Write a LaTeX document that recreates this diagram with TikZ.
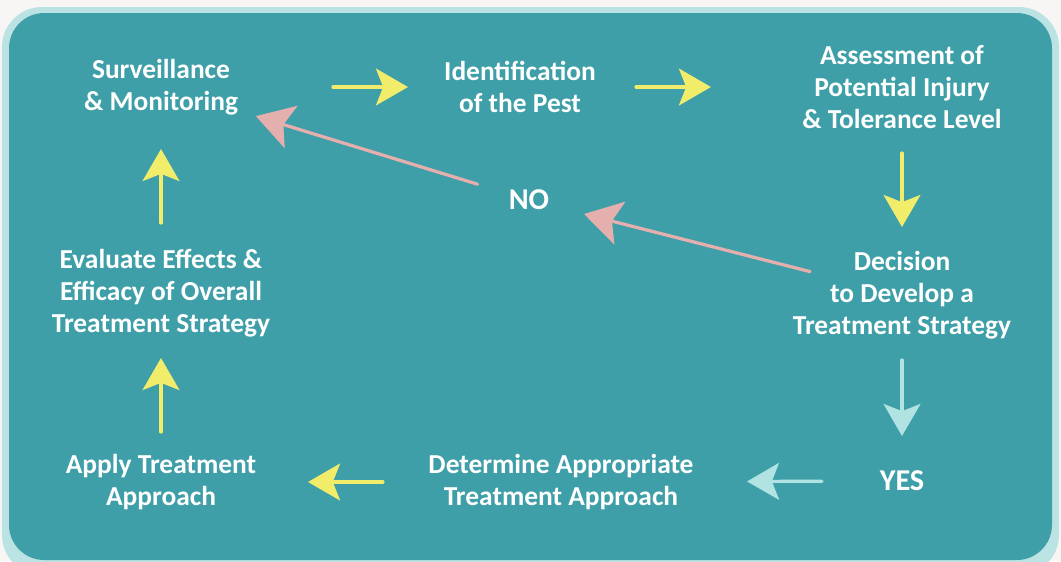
\documentclass[tikz,border=0pt]{standalone}
\usepackage{fontspec}
\setmainfont{Carlito}
\usetikzlibrary{arrows.meta}
\definecolor{pagebg}{HTML}{F7F6F4}
\definecolor{rimcol}{HTML}{BCE3E3}
\definecolor{tealcol}{HTML}{3E9FA8}
\definecolor{yelcol}{HTML}{F2EC6B}
\definecolor{pinkcol}{HTML}{E5AFAE}
\definecolor{cyancol}{HTML}{B0E3E1}
\tikzset{
  yarr/.style={draw=yelcol, line width=2.3pt, line cap=round,
    -{Stealth[length=0.8cm, width=0.92cm, inset=0.18cm, fill=yelcol]}},
  carr/.style={draw=cyancol, line width=2.3pt, line cap=round,
    -{Stealth[length=0.8cm, width=0.92cm, inset=0.18cm, fill=cyancol]}},
  parr/.style={draw=pinkcol, line width=2.3pt, line cap=round,
    -{Stealth[length=0.92cm, width=1.1cm, inset=0.2cm, fill=pinkcol]}},
  answer/.style={font=\fontsize{21.5}{24}\selectfont\bfseries}
}
\begin{document}
\begin{tikzpicture}[x=0.025cm, y=-0.025cm,
    every node/.style={text=white, align=center, inner sep=0pt,
      font=\fontsize{19.5}{22.8}\selectfont\bfseries}]
      \useasboundingbox (0,0) rectangle (1061,561);
      \fill[pagebg] (0,0) rectangle (1061,561);
      \fill[rimcol, rounded corners=1cm] (2,7) rectangle (1059,575);
      \fill[tealcol, rounded corners=0.88cm] (9,13) rectangle (1052,560);
      \node (surv) at (161,87) {Surveillance\\\& Monitoring};
      \node (ident) at (520,87) {Identification\\of the Pest};
      \node (assess) at (902,87) {Assessment of\\Potential Injury\\\& Tolerance Level};
      \node (decide) at (902,295) {Decision\\to Develop a\\Treatment Strategy};
      \node[answer] (yes) at (902,481) {YES};
      \node (determine) at (561,482) {Determine Appropriate\\Treatment Approach};
      \node (apply) at (161,482) {Apply Treatment\\Approach};
      \node (evaluate) at (161,293) {Evaluate Effects \&\\Efficacy of Overall\\Treatment Strategy};
      \node[answer] (no) at (529,200) {NO};
      \foreach \source/\dest/\s/\e in {surv/ident/4.3/2.8, ident/assess/2.9/4.775, assess/decide/1.65/1.7,
          determine/apply/4.45/3.675, apply/evaluate/1.25/1.625, evaluate/surv/1.75/1.55}
        \draw[yarr, shorten <=\s cm, shorten >=\e cm] (\source.center) -- (\dest.center);
      \foreach \source/\dest/\s/\e in {decide/yes/1.625/1.125, yes/determine/2.0/4.65}
        \draw[carr, shorten <=\s cm, shorten >=\e cm] (\source.center) -- (\dest.center);
      \foreach \source/\dest/\s/\e in {decide/no/2.37/1.42, no/surv/1.345/2.48}
        \draw[parr, shorten <=\s cm, shorten >=\e cm] (\source.center) -- (\dest.center);
    \end{tikzpicture}
\end{document}
